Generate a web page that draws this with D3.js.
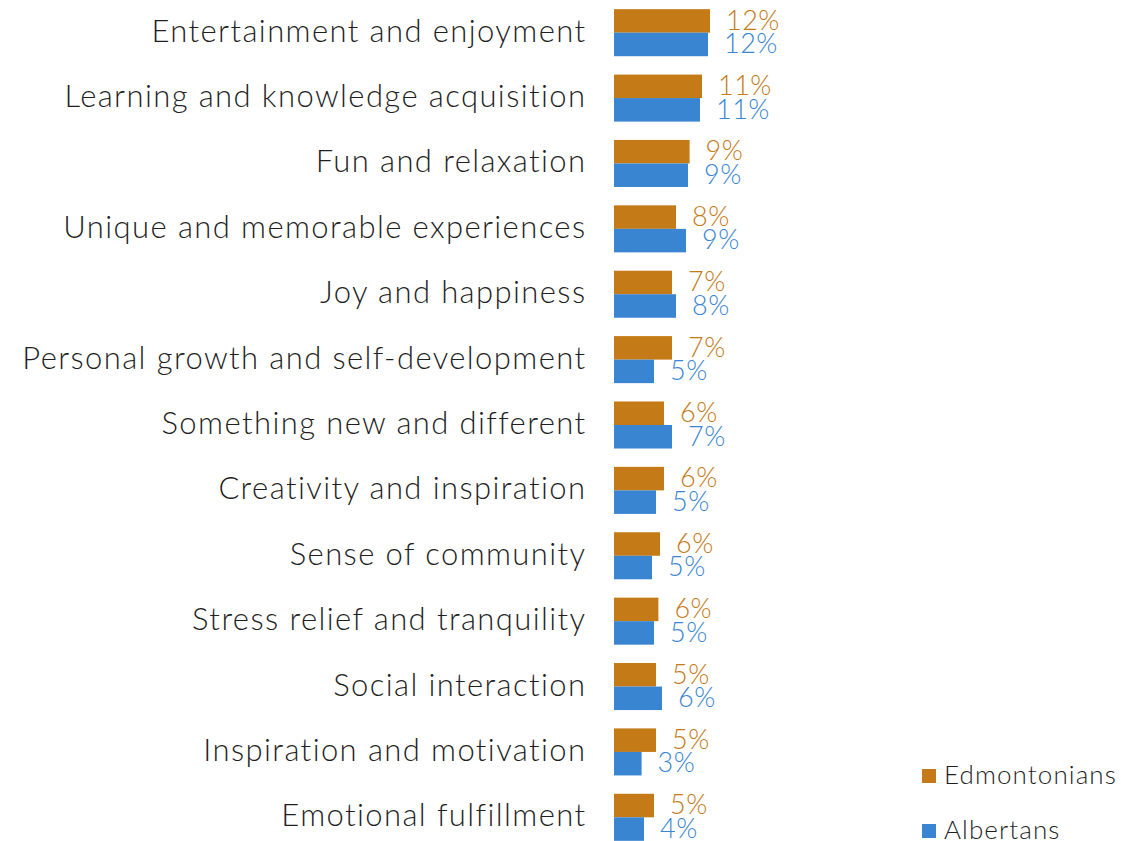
<!DOCTYPE html>
<html>
<head>
<meta charset="utf-8">
<script src="https://cdn.jsdelivr.net/npm/d3@7/dist/d3.min.js"></script>
<style>
  html, body { margin: 0; padding: 0; background: #fff; }
  svg { display: block; }
  text { font-family: "Lato", "Open Sans", sans-serif; font-weight: 300; }
</style>
</head>
<body>
<svg id="chart" width="1121" height="841"></svg>
<script>
// Reasons for visiting, share of respondents
const categories = [
  "Entertainment and enjoyment",
  "Learning and knowledge acquisition",
  "Fun and relaxation",
  "Unique and memorable experiences",
  "Joy and happiness",
  "Personal growth and self-development",
  "Something new and different",
  "Creativity and inspiration",
  "Sense of community",
  "Stress relief and tranquility",
  "Social interaction",
  "Inspiration and motivation",
  "Emotional fulfillment"
];
const seriesNames = ["Edmontonians", "Albertans"];
const edmontonians = [12.0, 11.0, 9.45, 7.75, 7.25, 7.25, 6.25, 6.25, 5.75, 5.55, 5.25, 5.25, 5.0];
const albertans    = [11.75, 10.75, 9.25, 9.0, 7.75, 5.0, 7.25, 5.25, 4.75, 5.0, 6.0, 3.45, 3.75];
const colors = ["#C47A16", "#3A85D1"];

const rows = categories.map((c, i) => ({
  category: c,
  values: [edmontonians[i], albertans[i]]
}));

const svg = d3.select("#chart");

const y = d3.scaleBand().domain(categories).range([0, 850]);
const ySub = d3.scaleBand().domain(seriesNames).range([0, y.bandwidth()]).paddingOuter(0.39);
const x = d3.scaleLinear().domain([0, 13]).range([614, 718]);

// Category labels
svg.append("g")
  .selectAll("text")
  .data(categories)
  .join("text")
  .attr("x", 586.5)
  .attr("y", d => y(d) + y.bandwidth() / 2 + 9)
  .attr("text-anchor", "end")
  .attr("font-size", 31)
  .attr("letter-spacing", 1.4)
  .attr("fill", "#1f1f1f")
  .text(d => d);

// Bars and value labels
const groups = svg.append("g")
  .selectAll("g")
  .data(rows)
  .join("g")
  .attr("transform", d => `translate(0,${y(d.category)})`);

groups.selectAll("rect")
  .data(d => d.values.map((v, k) => ({ v, name: seriesNames[k], k })))
  .join("rect")
  .attr("x", x(0))
  .attr("y", d => ySub(d.name))
  .attr("width", d => x(d.v) - x(0))
  .attr("height", ySub.bandwidth())
  .attr("fill", d => colors[d.k]);

groups.selectAll("text.val")
  .data(d => d.values.map((v, k) => ({ v, name: seriesNames[k], k })))
  .join("text")
  .attr("class", "val")
  .attr("x", d => x(d.v) + 16)
  .attr("y", d => ySub(d.name) + ySub.bandwidth() - 3)
  .attr("font-size", 27)
  .attr("letter-spacing", 0.5)
  .attr("fill", d => colors[d.k])
  .text(d => Math.round(d.v) + "%");

// Legend
const legend = svg.append("g")
  .selectAll("g")
  .data(seriesNames)
  .join("g")
  .attr("transform", (d, i) => `translate(922,${769 + i * 55})`);
legend.append("rect")
  .attr("width", 14).attr("height", 14)
  .attr("fill", (d, i) => colors[i]);
legend.append("text")
  .attr("x", 22).attr("y", 15)
  .attr("font-size", 26)
  .attr("letter-spacing", 1.1)
  .attr("fill", "#1f1f1f")
  .text(d => d);
</script>
</body>
</html>
